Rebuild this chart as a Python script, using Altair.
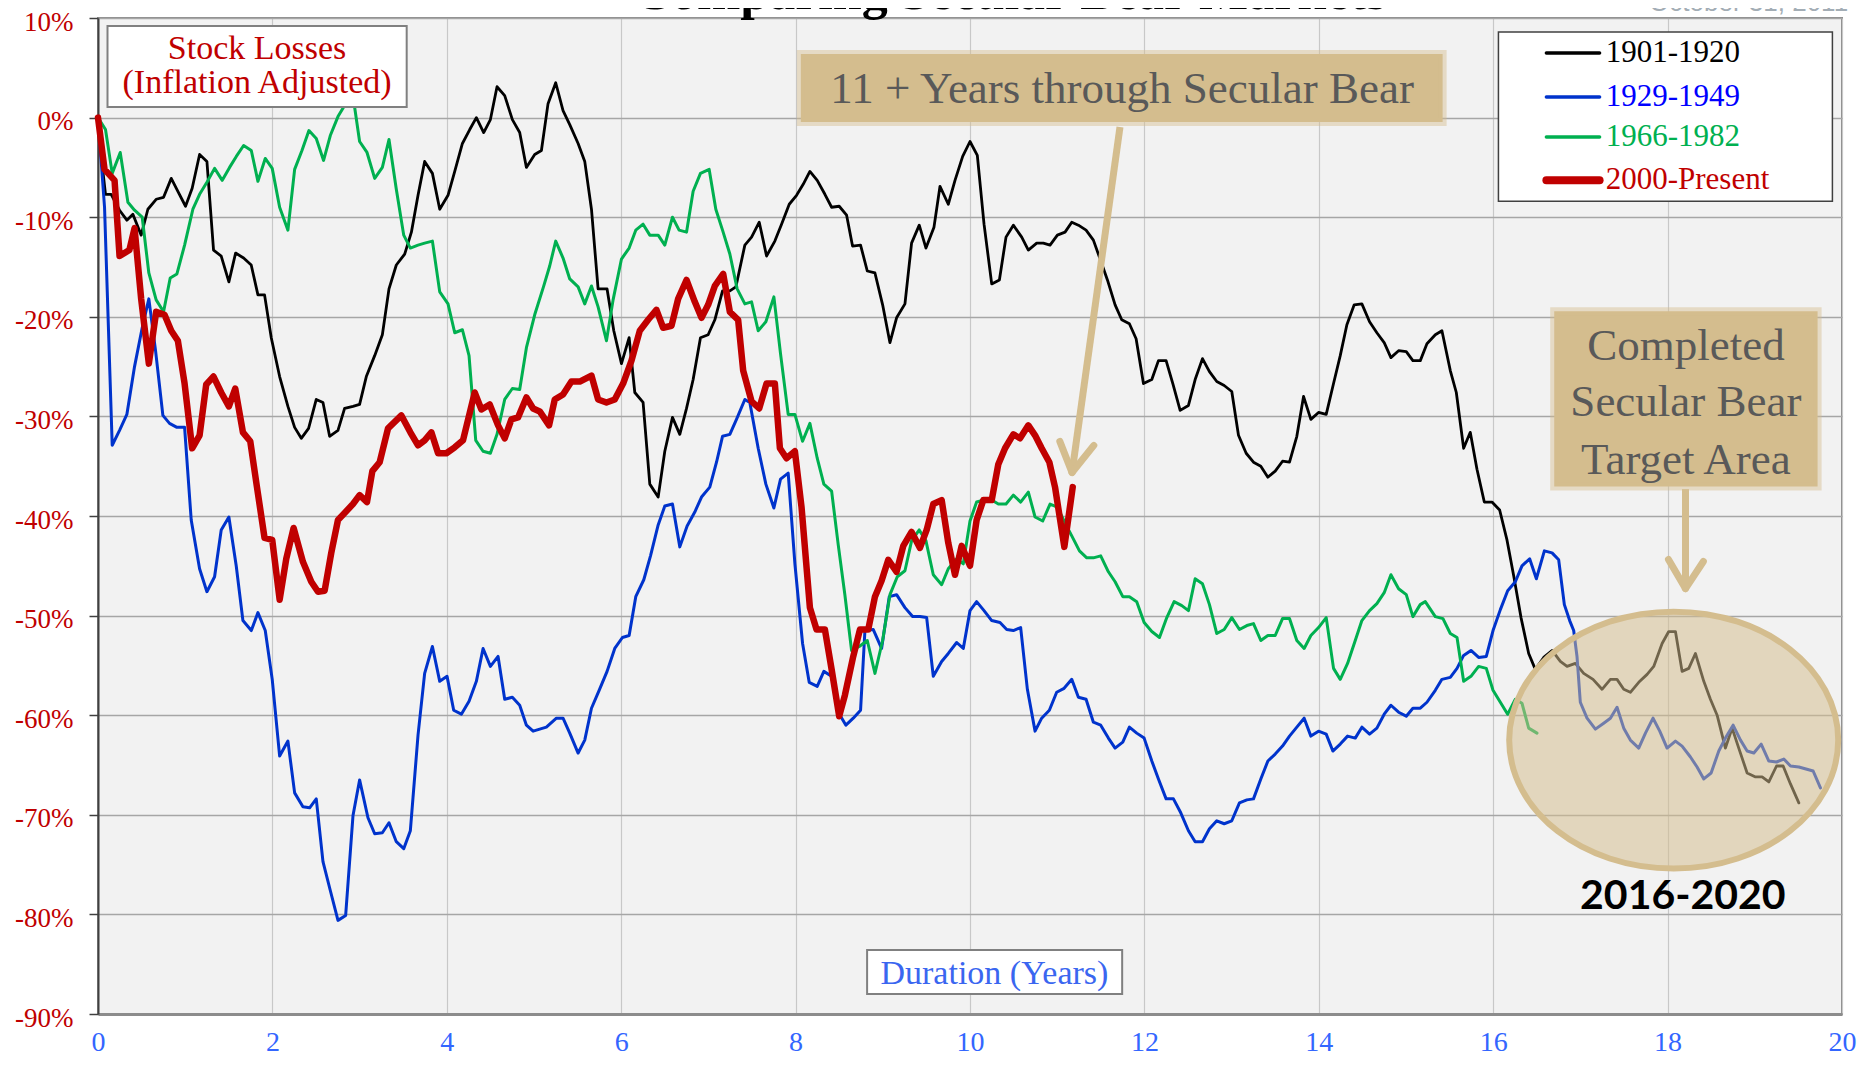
import altair as alt
import pandas as pd

# ---------------- data ----------------
black_years = [0.0, 0.036, 0.086, 0.151, 0.247, 0.331, 0.4, 0.495, 0.572, 0.667, 0.752, 0.84, 0.916, 1.004, 1.08, 1.165, 1.249, 1.325, 1.413, 1.501, 1.578, 1.67, 1.757, 1.834, 1.91, 1.987, 2.083, 2.178, 2.255, 2.331, 2.415, 2.503, 2.58, 2.656, 2.752, 2.828, 2.924, 3.0, 3.077, 3.173, 3.261, 3.337, 3.421, 3.517, 3.594, 3.67, 3.746, 3.835, 3.919, 4.014, 4.091, 4.179, 4.263, 4.339, 4.423, 4.5, 4.576, 4.664, 4.752, 4.836, 4.913, 5.008, 5.085, 5.161, 5.249, 5.333, 5.41, 5.506, 5.582, 5.659, 5.735, 5.838, 5.915, 6.003, 6.091, 6.156, 6.251, 6.328, 6.424, 6.5, 6.588, 6.672, 6.749, 6.825, 6.909, 6.997, 7.074, 7.162, 7.246, 7.315, 7.418, 7.495, 7.583, 7.667, 7.762, 7.839, 7.927, 8.011, 8.087, 8.164, 8.248, 8.336, 8.413, 8.5, 8.585, 8.653, 8.745, 8.822, 8.91, 8.998, 9.082, 9.158, 9.254, 9.33, 9.418, 9.495, 9.587, 9.656, 9.751, 9.828, 9.916, 10.0, 10.084, 10.161, 10.249, 10.337, 10.413, 10.497, 10.593, 10.669, 10.765, 10.841, 10.918, 11.002, 11.09, 11.167, 11.243, 11.331, 11.415, 11.492, 11.576, 11.664, 11.74, 11.828, 11.905, 11.989, 12.085, 12.161, 12.249, 12.326, 12.41, 12.505, 12.582, 12.666, 12.746, 12.83, 12.915, 13.002, 13.079, 13.167, 13.251, 13.335, 13.416, 13.5, 13.584, 13.664, 13.748, 13.825, 13.909, 13.997, 14.085, 14.169, 14.246, 14.322, 14.406, 14.494, 14.582, 14.666, 14.75, 14.827, 14.915, 15.003, 15.079, 15.164, 15.24, 15.336, 15.412, 15.508, 15.577, 15.661, 15.737, 15.814, 15.898, 15.986, 16.074, 16.158, 16.235, 16.319, 16.407, 16.483, 16.579, 16.675, 16.77, 16.847, 16.942, 17.038, 17.145, 17.248, 17.344, 17.42, 17.497, 17.573, 17.669, 17.765, 17.841, 17.937, 18.013, 18.09, 18.166, 18.243, 18.319, 18.415, 18.491, 18.568, 18.663, 18.74, 18.816, 18.912, 19.008, 19.084, 19.161, 19.249, 19.325, 19.409, 19.505]
black_pct = [0.0, -3.8, -7.7, -7.7, -9.3, -10.3, -9.7, -11.8, -9.2, -8.2, -8.0, -6.1, -7.4, -8.9, -7.1, -3.7, -4.4, -13.3, -13.9, -16.5, -13.6, -14.1, -14.8, -17.8, -17.8, -22.1, -26.0, -29.0, -31.1, -32.2, -31.2, -28.3, -28.6, -32.0, -31.4, -29.2, -29.0, -28.8, -26.0, -23.9, -21.8, -17.2, -14.8, -13.7, -11.5, -7.8, -4.4, -5.6, -9.2, -7.8, -5.4, -2.6, -1.2, 0.0, -1.5, -0.2, 3.1, 2.2, -0.2, -1.5, -5.0, -3.7, -3.3, 1.4, 3.5, 0.7, -0.7, -2.6, -4.4, -9.2, -17.2, -17.2, -21.4, -24.7, -22.1, -27.6, -28.6, -36.8, -38.1, -33.5, -30.1, -31.8, -29.2, -26.3, -22.1, -21.8, -20.3, -17.4, -17.4, -17.0, -12.8, -12.0, -10.5, -13.9, -12.4, -10.7, -8.7, -7.8, -6.7, -5.4, -6.3, -7.7, -9.0, -8.9, -9.8, -12.9, -12.8, -15.4, -15.6, -18.8, -22.6, -20.1, -18.7, -12.6, -10.8, -13.1, -11.0, -6.9, -8.7, -6.3, -3.9, -2.4, -3.8, -10.7, -16.7, -16.3, -12.0, -10.8, -12.0, -13.3, -12.6, -12.6, -12.8, -11.8, -11.5, -10.5, -10.8, -11.3, -12.3, -14.2, -16.3, -18.8, -20.3, -20.7, -22.2, -26.7, -26.3, -24.4, -24.4, -26.7, -29.4, -28.9, -26.3, -24.2, -25.5, -26.5, -26.9, -27.5, -31.9, -33.7, -34.6, -35.0, -36.1, -35.5, -34.5, -34.6, -32.0, -28.0, -30.3, -29.6, -29.8, -26.7, -23.9, -20.8, -18.8, -18.7, -20.5, -21.6, -22.6, -24.1, -23.4, -23.5, -24.4, -24.4, -22.7, -21.8, -21.4, -25.4, -27.6, -33.2, -31.6, -35.3, -38.6, -38.6, -39.4, -42.4, -46.0, -50.2, -53.8, -55.4, -54.2, -53.5, -54.6, -55.1, -54.8, -55.8, -56.4, -57.4, -56.4, -56.4, -57.4, -57.7, -56.7, -55.9, -55.1, -52.8, -51.6, -51.6, -55.6, -55.3, -53.8, -56.6, -58.4, -60.0, -63.3, -61.3, -63.3, -65.8, -66.2, -66.2, -66.7, -65.1, -65.1, -66.9, -68.8]

blue_years = [0.0, 0.075, 0.163, 0.247, 0.331, 0.419, 0.507, 0.583, 0.66, 0.744, 0.82, 0.905, 0.993, 1.069, 1.165, 1.249, 1.337, 1.413, 1.501, 1.585, 1.662, 1.758, 1.834, 1.918, 1.998, 2.083, 2.178, 2.255, 2.35, 2.427, 2.503, 2.58, 2.664, 2.752, 2.84, 2.924, 3.0, 3.096, 3.173, 3.261, 3.337, 3.421, 3.506, 3.582, 3.67, 3.746, 3.835, 3.919, 4.003, 4.079, 4.167, 4.255, 4.339, 4.416, 4.5, 4.588, 4.664, 4.752, 4.836, 4.913, 4.99, 5.066, 5.142, 5.257, 5.333, 5.41, 5.506, 5.582, 5.659, 5.747, 5.838, 5.926, 6.014, 6.091, 6.167, 6.259, 6.336, 6.424, 6.5, 6.588, 6.672, 6.756, 6.844, 6.921, 7.016, 7.093, 7.162, 7.246, 7.322, 7.418, 7.475, 7.571, 7.659, 7.751, 7.827, 7.915, 7.992, 8.08, 8.156, 8.248, 8.324, 8.413, 8.489, 8.577, 8.661, 8.745, 8.795, 8.891, 8.986, 9.074, 9.158, 9.254, 9.342, 9.426, 9.503, 9.579, 9.675, 9.751, 9.847, 9.923, 10.0, 10.076, 10.161, 10.249, 10.344, 10.421, 10.497, 10.581, 10.658, 10.746, 10.822, 10.91, 10.994, 11.079, 11.167, 11.243, 11.331, 11.415, 11.499, 11.587, 11.664, 11.752, 11.828, 11.912, 11.997, 12.085, 12.161, 12.249, 12.333, 12.417, 12.505, 12.582, 12.666, 12.746, 12.83, 12.915, 13.002, 13.09, 13.175, 13.251, 13.335, 13.416, 13.5, 13.584, 13.664, 13.748, 13.832, 13.909, 13.997, 14.085, 14.161, 14.246, 14.33, 14.418, 14.494, 14.582, 14.666, 14.75, 14.827, 14.915, 15.003, 15.079, 15.164, 15.24, 15.336, 15.412, 15.508, 15.585, 15.661, 15.745, 15.833, 15.921, 15.998, 16.082, 16.166, 16.254, 16.33, 16.418, 16.495, 16.587, 16.675, 16.751, 16.816, 16.877, 16.923, 16.961, 16.999, 17.076, 17.172, 17.267, 17.344, 17.42, 17.497, 17.573, 17.669, 17.746, 17.833, 17.91, 17.994, 18.09, 18.166, 18.262, 18.338, 18.415, 18.499, 18.587, 18.663, 18.751, 18.836, 18.912, 18.989, 19.073, 19.161, 19.249, 19.333, 19.409, 19.505, 19.669, 19.753]
blue_pct = [0.0, -9.0, -32.9, -31.4, -29.8, -25.0, -21.1, -18.2, -23.4, -29.9, -30.7, -31.1, -31.1, -40.4, -45.3, -47.6, -46.1, -41.4, -40.1, -45.0, -50.5, -51.5, -49.7, -51.5, -56.4, -64.1, -62.6, -67.8, -69.2, -69.3, -68.4, -74.7, -77.6, -80.6, -80.1, -70.1, -66.5, -70.3, -71.9, -71.8, -70.8, -72.7, -73.4, -71.6, -62.0, -55.8, -53.1, -56.6, -56.1, -59.5, -59.9, -58.6, -56.6, -53.3, -55.1, -54.1, -58.4, -58.2, -59.0, -61.0, -61.6, -61.4, -61.2, -60.3, -60.3, -61.8, -63.8, -62.5, -59.3, -57.5, -55.6, -53.3, -52.2, -52.0, -48.1, -46.4, -44.0, -40.9, -39.0, -38.8, -43.1, -41.0, -39.6, -38.1, -37.1, -34.6, -32.0, -31.8, -30.3, -28.3, -28.6, -33.2, -36.8, -39.2, -36.3, -35.7, -44.8, -52.8, -56.7, -57.1, -55.6, -56.1, -59.7, -61.0, -60.3, -59.5, -51.5, -51.4, -53.3, -48.1, -47.9, -49.2, -50.1, -50.1, -50.2, -56.1, -54.6, -53.8, -52.7, -53.3, -49.5, -48.6, -49.5, -50.5, -50.7, -51.4, -51.5, -51.2, -57.4, -61.6, -60.3, -59.5, -57.7, -57.3, -56.4, -58.2, -58.4, -60.7, -61.0, -62.3, -63.3, -62.7, -61.2, -61.8, -62.3, -64.6, -66.4, -68.4, -68.4, -69.8, -71.6, -72.7, -72.7, -71.4, -70.6, -70.9, -70.6, -68.8, -68.5, -68.4, -66.4, -64.6, -63.9, -63.1, -62.1, -61.2, -60.3, -62.1, -61.6, -61.9, -63.6, -62.9, -62.1, -62.3, -61.2, -61.9, -61.3, -59.9, -59.0, -59.7, -60.1, -59.3, -59.3, -58.7, -57.5, -56.4, -56.2, -55.3, -54.0, -53.5, -54.2, -54.1, -51.5, -49.4, -47.5, -46.6, -45.0, -44.3, -46.3, -43.5, -43.7, -44.4, -48.9, -50.5, -51.5, -54.1, -58.7, -60.3, -61.4, -60.8, -60.3, -59.2, -61.3, -62.5, -63.3, -61.8, -60.3, -61.6, -63.3, -62.6, -63.1, -64.2, -65.2, -66.4, -65.8, -63.6, -62.3, -61.0, -62.5, -63.6, -63.8, -62.9, -64.6, -64.7, -64.4, -65.1, -65.2, -65.6, -67.3]

green_years = [0.0, 0.086, 0.163, 0.255, 0.343, 0.419, 0.507, 0.583, 0.667, 0.752, 0.828, 0.905, 0.993, 1.088, 1.165, 1.249, 1.337, 1.425, 1.509, 1.586, 1.67, 1.758, 1.834, 1.918, 1.998, 2.083, 2.178, 2.255, 2.339, 2.419, 2.503, 2.587, 2.664, 2.752, 2.84, 2.924, 3.0, 3.085, 3.173, 3.261, 3.337, 3.421, 3.506, 3.582, 3.67, 3.746, 3.835, 3.919, 4.014, 4.091, 4.179, 4.255, 4.332, 4.416, 4.5, 4.576, 4.664, 4.752, 4.836, 4.913, 5.008, 5.112, 5.18, 5.249, 5.333, 5.41, 5.506, 5.582, 5.659, 5.735, 5.831, 5.907, 6.003, 6.091, 6.167, 6.251, 6.328, 6.424, 6.5, 6.588, 6.664, 6.749, 6.825, 6.909, 7.009, 7.085, 7.162, 7.246, 7.33, 7.418, 7.495, 7.571, 7.659, 7.751, 7.827, 7.915, 7.992, 8.08, 8.164, 8.248, 8.324, 8.413, 8.489, 8.565, 8.642, 8.73, 8.822, 8.91, 8.998, 9.082, 9.166, 9.254, 9.33, 9.418, 9.495, 9.579, 9.675, 9.751, 9.847, 9.923, 10.0, 10.076, 10.161, 10.249, 10.325, 10.413, 10.497, 10.581, 10.669, 10.746, 10.834, 10.918, 11.002, 11.09, 11.167, 11.255, 11.339, 11.415, 11.499, 11.587, 11.664, 11.752, 11.828, 11.912, 11.997, 12.085, 12.173, 12.257, 12.341, 12.429, 12.505, 12.582, 12.666, 12.746, 12.83, 12.915, 13.002, 13.09, 13.175, 13.251, 13.335, 13.416, 13.5, 13.584, 13.664, 13.748, 13.832, 13.909, 13.997, 14.085, 14.169, 14.246, 14.33, 14.418, 14.494, 14.582, 14.666, 14.75, 14.827, 14.915, 15.003, 15.079, 15.163, 15.221, 15.336, 15.424, 15.508, 15.585, 15.661, 15.745, 15.833, 15.921, 15.998, 16.082, 16.166, 16.254, 16.33, 16.407, 16.502]
green_pct = [0.0, -1.2, -5.6, -3.5, -8.5, -9.3, -10.0, -15.6, -18.3, -19.5, -16.1, -15.7, -12.8, -9.2, -7.7, -6.5, -5.1, -6.3, -5.0, -3.9, -2.8, -3.3, -6.4, -4.1, -5.1, -9.0, -11.3, -5.2, -3.3, -1.3, -2.1, -4.3, -1.8, 0.1, 1.4, 2.2, -2.4, -3.5, -6.1, -5.0, -2.2, -7.2, -11.8, -13.1, -12.8, -12.6, -12.4, -17.5, -18.7, -21.6, -21.3, -23.9, -32.4, -33.5, -33.7, -31.8, -28.3, -27.2, -27.3, -23.1, -19.8, -16.9, -14.9, -12.4, -14.1, -16.2, -17.0, -18.7, -16.9, -19.0, -22.4, -18.3, -14.2, -13.1, -11.3, -10.7, -11.8, -11.8, -12.8, -10.0, -11.3, -11.5, -7.4, -5.6, -5.2, -9.2, -11.3, -13.7, -17.2, -18.7, -18.5, -21.4, -20.5, -18.0, -23.7, -29.8, -29.8, -32.5, -30.7, -34.2, -36.8, -37.5, -42.9, -47.9, -53.5, -53.1, -52.5, -55.8, -52.5, -47.9, -46.1, -45.5, -42.5, -41.4, -42.5, -45.9, -46.9, -45.3, -44.3, -44.8, -40.5, -38.6, -38.4, -38.4, -38.8, -38.8, -37.9, -38.6, -37.6, -40.1, -40.5, -38.8, -39.1, -40.7, -42.0, -43.5, -44.2, -44.2, -44.0, -45.6, -46.6, -48.1, -48.1, -48.6, -50.7, -51.6, -52.2, -50.2, -48.6, -49.0, -49.5, -46.3, -46.8, -48.9, -51.8, -51.4, -50.2, -51.4, -51.0, -50.8, -52.5, -52.0, -52.0, -50.3, -50.3, -52.5, -53.3, -52.0, -51.2, -50.2, -55.3, -56.4, -54.8, -52.5, -50.5, -49.5, -48.8, -47.7, -45.9, -47.3, -47.9, -50.1, -48.9, -48.6, -50.1, -50.3, -51.8, -52.2, -56.6, -56.1, -55.1, -55.3, -57.5, -58.7, -59.9, -58.4, -58.8, -61.3, -61.8]

red_years = [0.0, 0.075, 0.19, 0.247, 0.36, 0.419, 0.495, 0.583, 0.667, 0.763, 0.84, 0.916, 0.993, 1.08, 1.165, 1.241, 1.325, 1.413, 1.501, 1.574, 1.662, 1.746, 1.823, 1.91, 1.998, 2.083, 2.159, 2.243, 2.35, 2.446, 2.523, 2.599, 2.675, 2.752, 2.828, 2.924, 3.0, 3.085, 3.146, 3.23, 3.326, 3.479, 3.582, 3.67, 3.746, 3.823, 3.9, 3.995, 4.091, 4.186, 4.32, 4.397, 4.492, 4.588, 4.664, 4.741, 4.817, 4.913, 4.99, 5.066, 5.173, 5.238, 5.333, 5.429, 5.525, 5.659, 5.735, 5.831, 5.926, 6.022, 6.118, 6.213, 6.309, 6.404, 6.481, 6.577, 6.653, 6.749, 6.844, 6.921, 6.997, 7.074, 7.17, 7.246, 7.341, 7.399, 7.495, 7.583, 7.667, 7.762, 7.82, 7.896, 7.992, 8.068, 8.164, 8.24, 8.336, 8.413, 8.5, 8.565, 8.661, 8.738, 8.833, 8.91, 8.986, 9.063, 9.158, 9.235, 9.33, 9.426, 9.503, 9.579, 9.675, 9.751, 9.828, 9.904, 10.0, 10.076, 10.153, 10.249, 10.325, 10.402, 10.497, 10.574, 10.669, 10.746, 10.822, 10.91, 10.975, 11.082, 11.178]
red_pct = [0.0, -5.2, -6.3, -13.9, -13.3, -11.1, -18.2, -24.7, -19.5, -19.8, -21.4, -22.4, -26.7, -33.2, -31.9, -26.8, -26.0, -27.6, -29.0, -27.2, -31.6, -32.5, -37.1, -42.2, -42.4, -48.4, -44.3, -41.2, -44.6, -46.6, -47.6, -47.5, -43.7, -40.4, -39.7, -38.8, -37.9, -38.6, -35.5, -34.6, -31.2, -29.9, -31.6, -32.9, -32.4, -31.6, -33.7, -33.7, -33.1, -32.4, -27.6, -29.3, -28.8, -30.9, -32.2, -30.3, -30.1, -28.1, -29.2, -29.5, -30.9, -28.3, -27.8, -26.5, -26.5, -25.9, -28.3, -28.6, -28.3, -26.7, -24.4, -21.4, -20.3, -19.3, -21.1, -20.9, -18.2, -16.3, -18.5, -20.1, -18.8, -16.9, -15.7, -19.5, -20.3, -25.4, -28.5, -29.2, -26.7, -26.7, -33.2, -34.2, -33.5, -39.1, -49.2, -51.4, -51.4, -55.4, -60.1, -58.0, -54.1, -51.4, -51.4, -48.1, -46.5, -44.4, -45.6, -43.0, -41.6, -43.2, -41.4, -38.8, -38.4, -42.7, -45.9, -43.0, -45.0, -40.4, -38.4, -38.4, -34.8, -33.2, -31.8, -32.2, -30.9, -31.9, -33.2, -34.6, -37.1, -43.1, -37.1]

series_names = ["1901-1920", "1929-1949", "1966-1982", "2000-Present"]
x_ticks = [0, 2, 4, 6, 8, 10, 12, 14, 16, 18, 20]
y_ticks = [-90, -80, -70, -60, -50, -40, -30, -20, -10, 0, 10]

# ---------------- styling ----------------
TAN = "#d4bd8e"
BLACK, BLUE, GREEN, RED = "#000000", "#0033cc", "#00b050", "#c00000"
SERIF = "Liberation Serif"

xs = alt.Scale(domain=[0, 20], nice=False, zero=False)
ys = alt.Scale(domain=[-90, 10], nice=False, zero=False)
xaxis = alt.Axis(values=x_ticks, format="d", title=None, grid=True, gridColor="#c8c8c8",
                 gridWidth=1.2, domainColor="#8c8c8c", domainWidth=3, ticks=False, tickSize=0,
                 labelColor="#3366ff", labelFont=SERIF, labelFontSize=28,
                 labelBaseline="alphabetic", labelPadding=36, labelFlush=False, labelOverlap=False)
yaxis = alt.Axis(values=y_ticks, labelExpr="datum.value + '%'", title=None, grid=True,
                 gridColor="#a6a6a6", gridWidth=1.5, domainColor="#404040", domainWidth=2,
                 ticks=True, tickSize=9, tickColor="#404040", tickWidth=1.5,
                 labelColor="#c00000", labelFont=SERIF, labelFontSize=27, labelPadding=16,
                 labelOffset=4, labelFlush=False, labelOverlap=False)


def X(f="year"):
    return alt.X(f"{f}:Q", scale=xs, axis=xaxis)


def Y(f="pct"):
    return alt.Y(f"{f}:Q", scale=ys, axis=yaxis)


def line(years, pct, color, width):
    df = pd.DataFrame({"year": years, "pct": pct, "i": list(range(len(years)))})
    return alt.Chart(df).mark_line(color=color, strokeWidth=width, strokeJoin="round",
                                   strokeCap="round").encode(x=X(), y=Y(), order="i:Q")


def rect(x1, x2, y1, y2, **kw):
    df = pd.DataFrame({"year": [x1], "year2": [x2], "pct": [y1], "pct2": [y2]})
    return alt.Chart(df).mark_rect(**kw).encode(x=X(), x2="year2:Q", y=Y(), y2="pct2:Q")


def text(x, y, label, **kw):
    df = pd.DataFrame({"year": [x], "pct": [y], "label": [label]})
    return alt.Chart(df).mark_text(**kw).encode(x=X(), y=Y(), text="label:N")


def segs(rows, **kw):
    df = pd.DataFrame(rows, columns=["year", "pct", "year2", "pct2"])
    return alt.Chart(df).mark_rule(**kw).encode(x=X(), y=Y(), x2="year2:Q", y2="pct2:Q")


layers = [
    line(black_years, black_pct, BLACK, 2.8),
    line(blue_years, blue_pct, BLUE, 3),
    line(green_years, green_pct, GREEN, 3),
    line(red_years, red_pct, RED, 6.5),
]

# target-area ellipse drawn over the lines
ell = pd.DataFrame({"year": [18.07], "pct": [-62.5]})
layers.append(alt.Chart(ell).mark_point(
    shape="M -1 0 A 1 0.781 0 1 0 1 0 A 1 0.781 0 1 0 -1 0 Z", size=108241, filled=True,
    fill=TAN, fillOpacity=0.53, stroke=TAN, strokeWidth=6, strokeOpacity=1, opacity=1
).encode(x=X(), y=Y()))

# boxes
layers += [
    rect(0.109, 3.54, 9.2, 1.06, fill="white", stroke="#808080", strokeWidth=2),
    rect(8.06, 15.42, 6.38, -0.45, fill=TAN, stroke=TAN, strokeWidth=8, strokeOpacity=0.45),
    rect(16.70, 19.72, -19.45, -37.04, fill=TAN, stroke=TAN, strokeWidth=8, strokeOpacity=0.45),
    rect(8.82, 11.745, -83.57, -87.99, fill="white", stroke="#808080", strokeWidth=2),
    rect(16.06, 19.89, 8.59, -8.39, fill="white", stroke="#404040", strokeWidth=1.5),
]

# arrows
layers += [
    segs([[11.72, -0.95, 11.17, -35.63]], color=TAN, strokeWidth=7),
    segs([[11.03, -32.51, 11.17, -35.63], [11.42, -32.91, 11.17, -35.63],
          [18.01, -44.37, 18.205, -47.29], [18.41, -44.57, 18.205, -47.29]],
         color=TAN, strokeWidth=7, strokeCap="round"),
    segs([[18.205, -37.3, 18.205, -47.29]], color=TAN, strokeWidth=7),
]

# legend
leg_y = [6.48, 2.06, -1.96, -6.28]
leg_line_col = [BLACK, BLUE, GREEN, RED]
leg_text_col = ["#000000", "#0000ff", "#00b050", "#c00000"]
leg_w = [3.5, 3.5, 3.5, 8]
for nm, yy, lc, tc, w in zip(series_names, leg_y, leg_line_col, leg_text_col, leg_w):
    layers.append(segs([[16.61, yy, 17.22, yy]], color=lc, strokeWidth=w, strokeCap="round"))
    layers.append(text(17.29, yy, nm, font=SERIF, fontSize=31, color=tc, align="left",
                       baseline="middle"))

# texts
layers += [
    text(1.824, 5.88, "Stock Losses", font=SERIF, fontSize=34, color=RED, align="center",
         baseline="alphabetic"),
    text(1.824, 2.46, "(Inflation Adjusted)", font=SERIF, fontSize=34, color=RED,
         align="center", baseline="alphabetic"),
    text(11.745, 1.46, "11 + Years through Secular Bear", font=SERIF, fontSize=45,
         color="#595959", align="center", baseline="alphabetic"),
    text(18.21, -24.37, "Completed", font=SERIF, fontSize=45, color="#595959",
         align="center", baseline="alphabetic"),
    text(18.21, -30.0, "Secular Bear", font=SERIF, fontSize=45, color="#595959",
         align="center", baseline="alphabetic"),
    text(18.21, -35.83, "Target Area", font=SERIF, fontSize=45, color="#595959",
         align="center", baseline="alphabetic"),
    text(18.175, -79.45, "2016-2020", font="Lato", fontWeight="bold", fontSize=41,
         color="black", align="center", baseline="alphabetic"),
    text(10.28, -86.98, "Duration (Years)", font=SERIF, fontSize=34, color="#3a66f0",
         align="center", baseline="alphabetic"),
    text(10.46, 10.95, "Comparing Secular Bear Markets", font=SERIF, fontWeight="bold",
         fontSize=52, color="black", align="center", baseline="alphabetic"),
    text(20.07, 10.75, "October 31, 2011", font="Liberation Sans", fontSize=26,
         color="#a3adb5", align="right", baseline="alphabetic"),
]

chart = alt.layer(*layers).properties(
    width=1744, height=996,
    padding={"left": 90, "top": 10, "right": 22, "bottom": 48},
    autosize=alt.AutoSizeParams(type="none"),
    background="white",
).configure_view(fill="#f2f2f2", stroke="#8c8c8c", strokeWidth=2)

chart.save("out.html", embed_options={"renderer": "svg", "actions": False})
